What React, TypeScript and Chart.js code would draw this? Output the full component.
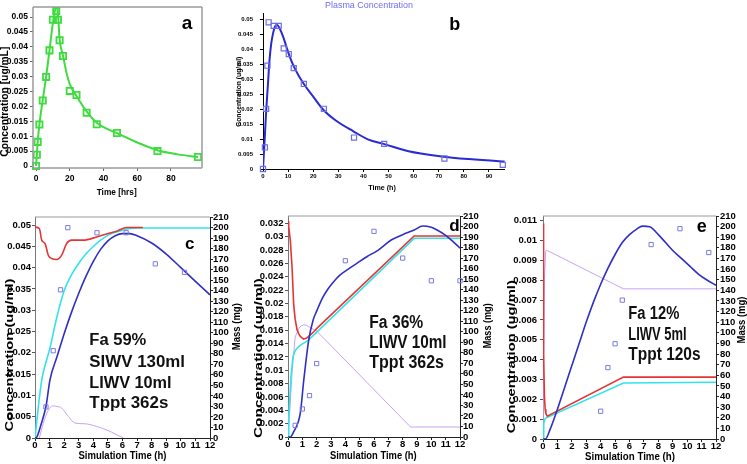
import React, { useEffect, useRef } from 'react';
import { Chart, registerables } from 'chart.js';

Chart.register(...registerables);

const FONT = "'Liberation Sans', Arial, sans-serif";
const NARROW = "'Liberation Sans Narrow', 'Arial Narrow', 'Liberation Sans', Arial, sans-serif";

// ---------- Panel a ----------
const aObsTime = [0, 0.5, 1, 2, 4, 6, 8, 10, 12, 13, 14, 16, 20, 24, 30, 36, 48, 72, 96];
const aObsConc = [0, 0.0038, 0.0081, 0.0139, 0.022, 0.0299, 0.0388, 0.0491, 0.052, 0.0491, 0.0422, 0.0369, 0.0252, 0.0238, 0.0179, 0.014, 0.0111, 0.005, 0.003];
const aFitTime = [0, 0.5, 1, 2, 4, 6, 8, 10, 11, 12, 12.6, 13.2, 14, 16, 18, 20, 24, 30, 36, 48, 60, 72, 84, 96];
const aFitConc = [0, 0.0038, 0.008, 0.0139, 0.0222, 0.03, 0.0388, 0.048, 0.0515, 0.0534, 0.053, 0.0495, 0.0425, 0.037, 0.0315, 0.0275, 0.0235, 0.0183, 0.0145, 0.011, 0.0079, 0.0053, 0.0039, 0.003];
const aXTicks = [0, 20, 40, 60, 80];
const aYTicks = [0, 0.005, 0.01, 0.015, 0.02, 0.025, 0.03, 0.035, 0.04, 0.045, 0.05];

// ---------- Panel b ----------
const bObsTime = [0, 0.75, 1.25, 1.75, 2.25, 4.25, 6.25, 8.25, 10.25, 12.25, 16.25, 24.25, 36.25, 48.25, 72.25, 95.5];
const bObsConc = [0, 0.0072, 0.0201, 0.0345, 0.049, 0.0478, 0.0478, 0.0403, 0.0384, 0.0337, 0.0284, 0.0201, 0.0105, 0.0084, 0.0035, 0.0014];
const bFitTime = [0, 0.66, 1.3, 2, 2.6, 3.3, 4, 4.8, 5.6, 6.6, 8, 9.3, 10.6, 12.6, 16, 20, 24, 29, 36, 42, 48, 58, 71, 82, 94, 96.3];
const bFitConc = [0, 0.0098, 0.0198, 0.0287, 0.0364, 0.042, 0.0453, 0.0476, 0.0481, 0.047, 0.0442, 0.0409, 0.0376, 0.0337, 0.0287, 0.0242, 0.0198, 0.0162, 0.0126, 0.0098, 0.0084, 0.0059, 0.0042, 0.0033, 0.0026, 0.0025];
const bXTicks = [0, 10, 20, 30, 40, 50, 60, 70, 80, 90];
const bYTicks = [0, 0.005, 0.01, 0.015, 0.02, 0.025, 0.03, 0.035, 0.04, 0.045, 0.05];

// ---------- shared for c, d, e ----------
const simTimeTicks = [0, 1, 2, 3, 4, 5, 6, 7, 8, 9, 10, 11, 12];
const massTicks = [0, 10, 20, 30, 40, 50, 60, 70, 80, 90, 100, 110, 120, 130, 140, 150, 160, 170, 180, 190, 200, 210];

// ---------- Panel c ----------
const cYTicks = [0, 0.005, 0.01, 0.015, 0.02, 0.025, 0.03, 0.035, 0.04, 0.045, 0.05];
const cObsTime = [0.75, 1.25, 1.75, 2.25, 4.25, 6.25, 8.25, 10.25];
const cObsConc = [0.0073, 0.0205, 0.0348, 0.0494, 0.0482, 0.0482, 0.0409, 0.0389];
const cBlueTime = [0, 0.12, 0.4, 0.75, 1.03, 1.5, 2, 2.5, 3, 3.5, 4, 4.5, 5, 5.5, 6, 6.5, 7, 8, 9, 10, 11, 12];
const cBlueConc = [0, 0.0002, 0.003, 0.0074, 0.0137, 0.019, 0.0245, 0.0295, 0.034, 0.038, 0.0415, 0.0443, 0.0463, 0.0475, 0.048, 0.048, 0.0475, 0.0458, 0.0432, 0.04, 0.0368, 0.0336];
const cCyanTime = [0, 0.2, 0.46, 0.75, 1, 1.5, 2, 2.5, 3, 3.5, 4, 4.5, 5, 5.5, 6, 6.5, 7, 12];
const cCyanMass = [0, 26, 55, 72, 84, 115, 140, 155, 166, 175, 182, 188, 192.5, 195.5, 197.5, 199, 199.5, 199.5];
const cRedTime = [0, 0.3, 0.46, 0.69, 0.91, 1.14, 1.49, 1.83, 2.17, 2.51, 3.31, 4.23, 5.14, 5.6, 6.3, 7.4];
const cRedMass = [200.5, 199, 188, 184.8, 173.7, 170.6, 169.6, 173.7, 184.8, 188, 188, 191, 194.8, 196.5, 200, 200];
const cLilacTime = [0.3, 0.57, 0.9, 1.2, 1.5, 1.83, 2.29, 2.74, 3.43, 4.23, 5.14, 5.83, 6.06];
const cLilacMass = [0, 14, 26, 30.5, 30, 28.4, 20.5, 14.2, 13.5, 11, 6.3, 1.5, 0];

// ---------- Panel d ----------
const dYTicks = [0, 0.002, 0.004, 0.006, 0.008, 0.01, 0.012, 0.014, 0.016, 0.018, 0.02, 0.022, 0.024, 0.026, 0.028, 0.03, 0.032];
const dObsTime = [0.5, 1, 1.5, 2, 4, 6, 8, 10, 12];
const dObsConc = [0.00174, 0.0042, 0.0062, 0.011, 0.0264, 0.0308, 0.0268, 0.0234, 0.0234];
const dBlueTime = [0, 0.16, 0.4, 0.86, 1.1, 1.45, 1.75, 2.03, 2.4, 2.8, 3.2, 3.6, 4.1, 4.8, 5.5, 6.3, 7.2, 8, 8.8, 9.4, 10, 10.4, 11, 11.4, 12];
const dBlueConc = [0, 0, 0.0008, 0.0036, 0.0085, 0.0146, 0.0175, 0.019, 0.0208, 0.0222, 0.0233, 0.0242, 0.025, 0.026, 0.027, 0.028, 0.0295, 0.0303, 0.031, 0.0316, 0.0314, 0.031, 0.0302, 0.0295, 0.0283];
const dRedTime = [0, 0.05, 0.16, 0.28, 0.4, 0.5, 0.63, 0.75, 0.86, 1.0, 1.1, 1.3, 1.56, 1.8, 2.03, 8.8, 12];
const dRedMass = [205, 200, 187, 162, 125, 112, 102, 98, 95.5, 94, 93, 94, 97, 100, 103.4, 191, 191];
const dCyanTime = [0, 0.05, 0.12, 0.21, 0.35, 0.5, 0.63, 0.85, 1.1, 1.45, 8.8, 12];
const dCyanMass = [0, 18, 35.4, 57.6, 76.5, 82, 84.4, 87, 89.2, 92.3, 188.8, 188.8];
const dLilacTime = [0, 0.15, 0.3, 0.5, 0.75, 0.9, 1.1, 1.3, 1.5, 1.75, 2.03, 8.55, 12];
const dLilacMass = [0, 30, 65, 95, 103, 105.5, 106.6, 106, 104.5, 102.5, 100.3, 9.5, 9.5];

// ---------- Panel e ----------
const eYTicks = [0, 0.001, 0.002, 0.003, 0.004, 0.005, 0.006, 0.007, 0.008, 0.009, 0.01, 0.011];
const eObsTime = [4, 4.5, 5, 5.5, 7.5, 9.5, 11.5];
const eObsConc = [0.0014, 0.0036, 0.0048, 0.007, 0.0098, 0.0106, 0.0094];
const eBlueTime = [0, 0.16, 0.5, 1, 1.5, 2, 2.5, 3, 3.5, 4, 4.5, 5, 5.5, 6, 6.5, 6.9, 7.4, 8, 8.5, 9, 9.6, 10.2, 10.8, 11.4, 12];
const eBlueConc = [0, 0, 0.0005, 0.0015, 0.0026, 0.0037, 0.0048, 0.0059, 0.0069, 0.0078, 0.0086, 0.0093, 0.0099, 0.0103, 0.01058, 0.01073, 0.0107, 0.0103, 0.0099, 0.0095, 0.0091, 0.0087, 0.0083, 0.008, 0.00775];
const eRedTime = [0, 0.02, 0.06, 0.1, 0.15, 0.2, 0.3, 5.58, 12];
const eRedMass = [203, 170, 80, 40, 28, 24, 21.5, 58.3, 58.3];
const eCyanTime = [0, 0.05, 0.16, 5.58, 12];
const eCyanMass = [0, 15, 19.5, 52.7, 53.5];
const eLilacTime = [0, 0.1, 0.18, 0.23, 0.3, 5.58, 12];
const eLilacMass = [0, 150, 176, 178, 177.5, 141.4, 141.4];

// ---------- helpers ----------
const pts = (xs: number[], ys: number[]) => xs.map((x, i) => ({ x, y: ys[i] }));
const fmt = (v: any) => String(parseFloat(Number(v).toFixed(5)));

const decorPlugin = {
  id: 'decor',
  afterDraw(chart: any, _args: any, opts: any) {
    const ctx = chart.ctx;
    const ca = chart.chartArea;
    ctx.save();
    if (opts.box) {
      ctx.strokeStyle = opts.box.color;
      ctx.lineWidth = opts.box.width;
      ctx.beginPath();
      for (const s of opts.box.sides) {
        if (s === 'top') { ctx.moveTo(ca.left, ca.top); ctx.lineTo(ca.right, ca.top); }
        if (s === 'bottom') { ctx.moveTo(ca.left, ca.bottom); ctx.lineTo(ca.right, ca.bottom); }
        if (s === 'left') { ctx.moveTo(ca.left, ca.top); ctx.lineTo(ca.left, ca.bottom); }
        if (s === 'right') { ctx.moveTo(ca.right, ca.top); ctx.lineTo(ca.right, ca.bottom); }
      }
      ctx.stroke();
    }
    for (const t of opts.texts || []) {
      ctx.save();
      ctx.font = t.font;
      ctx.fillStyle = t.color || '#000';
      ctx.textAlign = t.align || 'left';
      ctx.textBaseline = t.baseline || 'alphabetic';
      ctx.translate(t.x, t.y);
      if (t.rotate) ctx.rotate((t.rotate * Math.PI) / 180);
      if (t.width) {
        const w = ctx.measureText(t.text).width;
        if (w > 0) ctx.scale(t.width / w, 1);
      }
      ctx.fillText(t.text, 0, 0);
      ctx.restore();
    }
    ctx.restore();
  },
};

function axis(o: any) {
  return {
    type: 'linear',
    position: o.position,
    min: o.min,
    max: o.max,
    afterFit: (s: any) => {
      if (o.position === 'bottom') s.height = o.size;
      else s.width = o.size;
    },
    afterBuildTicks: (s: any) => {
      s.ticks = o.ticks.map((v: number) => ({ value: v }));
    },
    ticks: {
      autoSkip: false,
      maxRotation: 0,
      minRotation: 0,
      includeBounds: false,
      padding: o.pad,
      color: '#000',
      font: o.font,
      callback: (v: any) => fmt(v),
    },
    grid: {
      display: true,
      drawOnChartArea: false,
      drawTicks: true,
      tickLength: o.tl,
      tickColor: o.tickColor || '#000',
      tickWidth: 1,
    },
    border: {
      display: o.border !== false,
      color: o.borderColor || '#000',
      width: o.borderWidth || 1,
    },
    title: { display: false },
  };
}

function markerSet(xs: number[], ys: number[], color: string, r: number, bw: number, axisId = 'y') {
  return {
    data: pts(xs, ys),
    yAxisID: axisId,
    showLine: false,
    pointStyle: 'rect',
    pointRadius: r,
    pointBorderWidth: bw,
    pointBorderColor: color,
    pointBackgroundColor: 'rgba(255,255,255,0)',
    borderColor: color,
    backgroundColor: 'rgba(255,255,255,0)',
    clip: false,
  };
}

function lineSet(xs: number[], ys: number[], color: string, w: number, axisId = 'y', smooth = true) {
  return {
    data: pts(xs, ys),
    yAxisID: axisId,
    showLine: true,
    pointRadius: 0,
    borderColor: color,
    backgroundColor: color,
    borderWidth: w,
    cubicInterpolationMode: smooth ? 'monotone' : 'default',
    tension: 0,
    fill: false,
  };
}

const BLUE = '#2f2fc4';
const CYAN = '#33e3ea';
const RED = '#e63434';
const LILAC = '#c7a2f2';
const MARK = '#7a7ae4';
const GREEN = '#3fdc3f';

const tickFontA = { family: FONT, weight: 'bold', size: 8.5, lineHeight: 1 };
const tickFontB = { family: FONT, weight: 'bold', size: 6, lineHeight: 1 };
const tickFontC = { family: NARROW, weight: 'bold', size: 9.5, lineHeight: 1 };

type Spec = any;

const panels: Spec[] = [
  {
    key: 'a',
    canvas: { left: 0, top: 0, w: 235, h: 200 },
    area: { l: 33, t: 7, r: 202, b: 168 },
    x: { min: -1.78, max: 98.4, ticks: aXTicks, font: tickFontA, pad: 3, tl: 3, tickColor: '#666', border: false },
    y: { min: -0.00067, max: 0.05336, ticks: aYTicks, font: tickFontA, pad: 2, tl: 3, tickColor: '#666', border: false },
    box: { sides: ['top', 'right', 'bottom', 'left'], color: '#9a9a9a', width: 1.5 },
    datasets: [
      markerSet(aObsTime, aObsConc, GREEN, 4.4, 1.8),
      lineSet(aFitTime, aFitConc, GREEN, 2),
    ],
    texts: [
      { text: 'a', x: 181.7, y: 29.3, font: `bold 19px ${FONT}` },
      { text: 'Concentration [ug/mL]', x: 5.7, y: 101.7, rotate: -90, align: 'center', baseline: 'middle', width: 110, font: `bold 10px ${FONT}` },
      { text: 'Time [hrs]', x: 116.7, y: 192.7, align: 'center', baseline: 'middle', width: 40, font: `bold 9.5px ${FONT}` },
    ],
  },
  {
    key: 'b',
    canvas: { left: 235, top: 0, w: 275, h: 200 },
    area: { l: 263, t: 13, r: 506, b: 169 },
    x: { min: 0, max: 96.3, ticks: bXTicks, font: tickFontB, pad: 1, tl: 3, tickColor: '#000', borderColor: '#000' },
    y: { min: 0, max: 0.0521, ticks: bYTicks, font: tickFontB, pad: 7, tl: 3, tickColor: '#000', borderColor: '#000' },
    datasets: [
      markerSet(bObsTime, bObsConc, '#6d6de8', 3.6, 1.2),
      lineSet(bFitTime, bFitConc, '#2a2ad2', 2),
    ],
    texts: [
      { text: 'Plasma Concentration', x: 369, y: 6, align: 'center', baseline: 'middle', width: 88, font: `9px ${FONT}`, color: '#6f6ff2' },
      { text: 'b', x: 449.3, y: 30, font: `bold 18px ${FONT}` },
      { text: 'Concentration (ug/ml)', x: 239.3, y: 91.7, rotate: -90, align: 'center', baseline: 'middle', width: 70, font: `bold 7px ${FONT}` },
      { text: 'Time (h)', x: 382, y: 187.3, align: 'center', baseline: 'middle', width: 27.7, font: `bold 8px ${FONT}` },
    ],
  },
  {
    key: 'c',
    canvas: { left: 0, top: 205, w: 248, h: 259 },
    area: { l: 35, t: 217, r: 210, b: 438 },
    x: { min: 0, max: 12, ticks: simTimeTicks, font: tickFontC, pad: 0, tl: 3, tickColor: '#222', borderColor: '#222' },
    y: { min: 0, max: 0.0519, ticks: cYTicks, font: tickFontC, pad: 1, tl: 3, tickColor: '#555', borderColor: '#777' },
    y2: { min: 0, max: 210, ticks: massTicks, font: tickFontC, pad: 0, tl: 3, tickColor: '#222', borderColor: '#222' },
    box: { sides: ['top'], color: '#9a9a9a', width: 1 },
    datasets: [
      markerSet(cObsTime, cObsConc, MARK, 3, 1),
      lineSet(cBlueTime, cBlueConc, BLUE, 1.6),
      lineSet(cRedTime, cRedMass, RED, 1.6, 'y2'),
      lineSet(cCyanTime, cCyanMass, CYAN, 1.6, 'y2'),
      lineSet(cLilacTime, cLilacMass, LILAC, 1, 'y2'),
    ],
    texts: [
      { text: 'c', x: 185, y: 249.3, font: `bold 17px ${FONT}` },
      { text: 'Fa 59%', x: 89.3, y: 345, width: 57, font: `bold 16px ${FONT}`, color: '#111' },
      { text: 'SIWV 130ml', x: 89.3, y: 366.5, width: 95.7, font: `bold 16px ${FONT}`, color: '#111' },
      { text: 'LIWV 10ml', x: 89.3, y: 388, width: 82.3, font: `bold 16px ${FONT}`, color: '#111' },
      { text: 'Tppt 362s', x: 89.3, y: 408, width: 79, font: `bold 16px ${FONT}`, color: '#111' },
      { text: 'Concentration (ug/ml)', x: 10, y: 355, rotate: -90, align: 'center', baseline: 'middle', width: 153, font: `bold 10.5px ${FONT}` },
      { text: 'Mass (mg)', x: 237.3, y: 326.7, rotate: -90, align: 'center', baseline: 'middle', width: 47, font: `bold 10px ${FONT}` },
      { text: 'Simulation Time (h)', x: 122.5, y: 456.7, align: 'center', baseline: 'middle', width: 88, font: `bold 10px ${FONT}` },
    ],
  },
  {
    key: 'd',
    canvas: { left: 248, top: 205, w: 247, h: 259 },
    area: { l: 288, t: 216, r: 460, b: 437 },
    x: { min: 0, max: 12, ticks: simTimeTicks, font: tickFontC, pad: 0, tl: 3, tickColor: '#222', borderColor: '#222' },
    y: { min: 0, max: 0.0331, ticks: dYTicks, font: tickFontC, pad: 1.5, tl: 3, tickColor: '#555', borderColor: '#777' },
    y2: { min: 0, max: 210, ticks: massTicks, font: tickFontC, pad: 0, tl: 3, tickColor: '#222', borderColor: '#222' },
    box: { sides: ['top'], color: '#9a9a9a', width: 1 },
    datasets: [
      markerSet(dObsTime, dObsConc, MARK, 3, 1),
      lineSet(dBlueTime, dBlueConc, BLUE, 1.6),
      lineSet(dRedTime, dRedMass, RED, 1.6, 'y2', false),
      lineSet(dCyanTime, dCyanMass, CYAN, 1.6, 'y2', false),
      lineSet(dLilacTime, dLilacMass, LILAC, 1, 'y2', false),
    ],
    texts: [
      { text: 'd', x: 449.3, y: 230.7, font: `bold 17px ${FONT}` },
      { text: 'Fa 36%', x: 369.3, y: 328.3, width: 54, font: `bold 18px ${FONT}`, color: '#111' },
      { text: 'LIWV 10ml', x: 369.3, y: 348.3, width: 77.3, font: `bold 18px ${FONT}`, color: '#111' },
      { text: 'Tppt 362s', x: 369.3, y: 368.3, width: 74.7, font: `bold 18px ${FONT}`, color: '#111' },
      { text: 'Concentration (ug/ml)', x: 259, y: 358, rotate: -90, align: 'center', baseline: 'middle', width: 160, font: `bold 10.5px ${FONT}` },
      { text: 'Mass (mg)', x: 488.3, y: 325.8, rotate: -90, align: 'center', baseline: 'middle', width: 45, font: `bold 10px ${FONT}` },
      { text: 'Simulation Time (h)', x: 373.3, y: 456, align: 'center', baseline: 'middle', width: 86.7, font: `bold 10px ${FONT}` },
    ],
  },
  {
    key: 'e',
    canvas: { left: 495, top: 205, w: 252, h: 259 },
    area: { l: 543, t: 216, r: 716, b: 439 },
    x: { min: 0, max: 12, ticks: simTimeTicks, font: tickFontC, pad: 0, tl: 3, tickColor: '#222', borderColor: '#222' },
    y: { min: 0, max: 0.01124, ticks: eYTicks, font: tickFontC, pad: 3, tl: 3, tickColor: '#555', borderColor: '#777' },
    y2: { min: 0, max: 210, ticks: massTicks, font: tickFontC, pad: 1, tl: 3, tickColor: '#222', borderColor: '#222' },
    box: { sides: ['top'], color: '#9a9a9a', width: 1 },
    datasets: [
      markerSet(eObsTime, eObsConc, MARK, 3, 1),
      lineSet(eBlueTime, eBlueConc, BLUE, 1.6),
      lineSet(eRedTime, eRedMass, RED, 1.6, 'y2', false),
      lineSet(eCyanTime, eCyanMass, CYAN, 1.6, 'y2', false),
      lineSet(eLilacTime, eLilacMass, LILAC, 1, 'y2', false),
    ],
    texts: [
      { text: 'e', x: 696.7, y: 232, font: `bold 18px ${FONT}` },
      { text: 'Fa 12%', x: 628.3, y: 319.3, width: 51, font: `bold 17.5px ${FONT}`, color: '#111' },
      { text: 'LIWV 5ml', x: 628.3, y: 340, width: 58.3, font: `bold 17.5px ${FONT}`, color: '#111' },
      { text: 'Tppt 120s', x: 628.3, y: 360, width: 72.3, font: `bold 17.5px ${FONT}`, color: '#111' },
      { text: 'Concentration (ug/ml)', x: 512.5, y: 356.7, rotate: -90, align: 'center', baseline: 'middle', width: 153, font: `bold 10.5px ${FONT}` },
      { text: 'Mass (mg)', x: 742.5, y: 320, rotate: -90, align: 'center', baseline: 'middle', width: 47, font: `bold 10px ${FONT}` },
      { text: 'Simulation Time (h)', x: 630, y: 457.3, align: 'center', baseline: 'middle', width: 90, font: `bold 10px ${FONT}` },
    ],
  },
];

function buildConfig(p: Spec) {
  const { canvas, area } = p;
  const yW = area.l - canvas.left;
  const xH = canvas.top + canvas.h - area.b;
  const rightW = canvas.left + canvas.w - area.r;
  const topPad = area.t - canvas.top;
  const scales: any = {
    x: axis({ ...p.x, position: 'bottom', size: xH }),
    y: axis({ ...p.y, position: 'left', size: yW }),
  };
  if (p.y2) scales.y2 = axis({ ...p.y2, position: 'right', size: rightW });
  const texts = p.texts.map((t: any) => ({ ...t, x: t.x - canvas.left, y: t.y - canvas.top }));
  return {
    type: 'scatter',
    data: { datasets: p.datasets },
    options: {
      responsive: false,
      maintainAspectRatio: false,
      animation: false,
      devicePixelRatio: 1,
      layout: { padding: { top: topPad, left: 0, bottom: 0, right: p.y2 ? 0 : rightW } },
      scales,
      plugins: {
        legend: { display: false },
        tooltip: { enabled: false },
        title: { display: false },
        decor: { box: p.box, texts },
      },
      events: [],
    },
    plugins: [decorPlugin],
  };
}

function Panel({ spec }: { spec: Spec }) {
  const ref = useRef<HTMLCanvasElement | null>(null);
  useEffect(() => {
    if (!ref.current) return;
    const chart = new Chart(ref.current, buildConfig(spec) as any);
    return () => chart.destroy();
  }, [spec]);
  const c = spec.canvas;
  return (
    <canvas
      ref={ref}
      width={c.w}
      height={c.h}
      style={{ position: 'absolute', left: c.left, top: c.top, width: c.w, height: c.h }}
    />
  );
}

export default function App() {
  return (
    <div style={{ position: 'fixed', left: 0, top: 0, width: 747, height: 464, background: '#fff', overflow: 'hidden' }}>
      {panels.map((p) => (
        <Panel key={p.key} spec={p} />
      ))}
    </div>
  );
}
